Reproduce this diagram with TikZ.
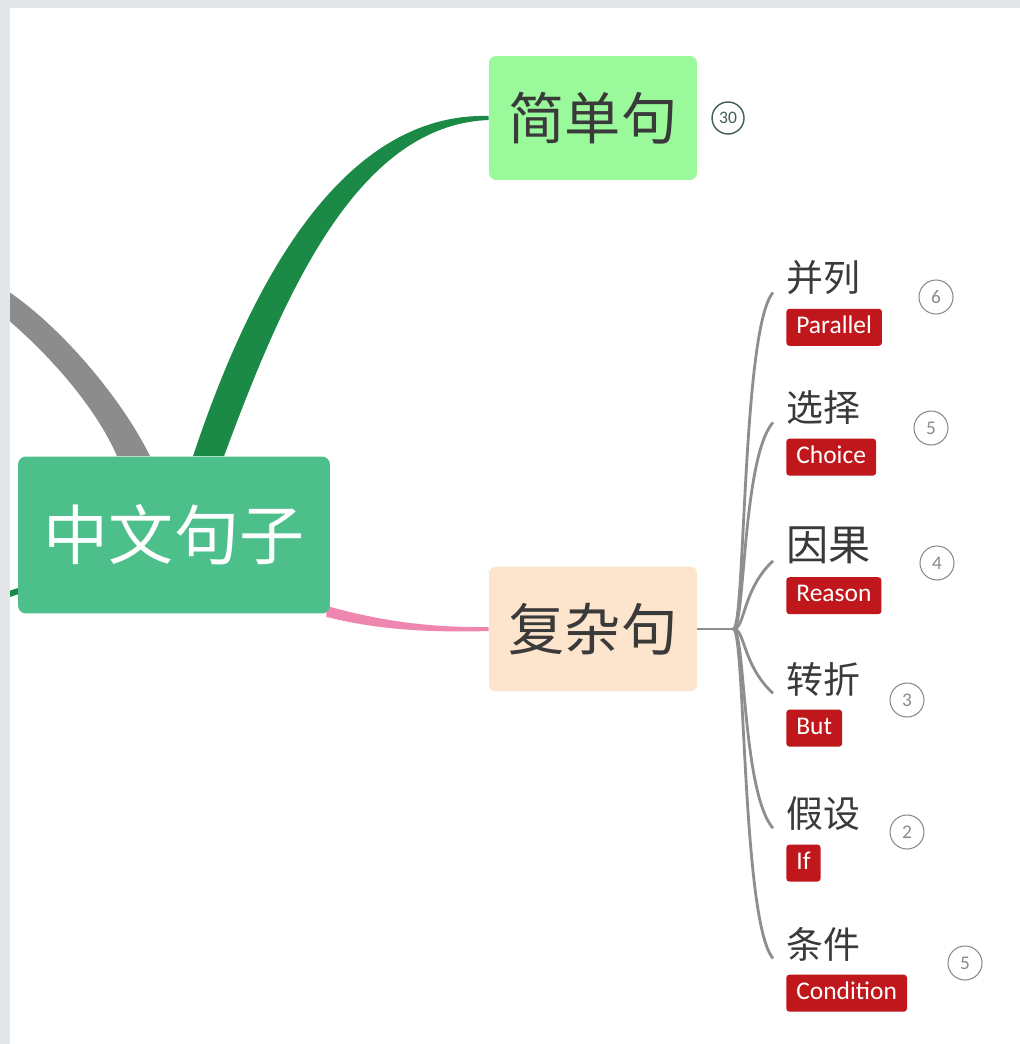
\documentclass[tikz,border=0pt]{standalone}
\usepackage{fontspec}
\setmainfont{Noto Sans CJK SC}
\newfontfamily\tagfont{Carlito}
\usetikzlibrary{positioning}
\usetikzlibrary{calc}
\usetikzlibrary{backgrounds}

\definecolor{rootgreen}{HTML}{4DBF8B}
\definecolor{branchgreen}{HTML}{1B8A47}
\definecolor{branchgray}{HTML}{8C8C8C}
\definecolor{branchpink}{HTML}{EE86AF}
\definecolor{simplefill}{HTML}{9AF99A}
\definecolor{complexfill}{HTML}{FDE4CC}
\definecolor{tagred}{HTML}{C0171C}
\definecolor{textgray}{HTML}{3A3A3A}
\definecolor{countgray}{HTML}{8A8A8A}
\definecolor{countgreen}{HTML}{3F5F50}
\definecolor{framegray}{HTML}{E3E7EA}
\definecolor{linegray}{HTML}{8E8E8E}

\begin{document}
\begin{tikzpicture}[x=0.02cm, y=-0.02cm,
  topic/.style={rounded corners=0.14cm, text=textgray, font=\fontsize{32}{32}\selectfont, minimum width=4.16cm, minimum height=2.48cm, inner sep=0},
  sub/.style={anchor=west, inner sep=0, text=textgray, font=\fontsize{21}{21}\selectfont},
  tag/.style={fill=tagred, text=white, rounded corners=0.06cm, font=\tagfont\fontsize{14.5}{14.5}\selectfont, inner xsep=0.2cm, inner ysep=4pt, text height=10pt, text depth=3pt},
  count/.style={circle, draw=countgray, line width=0.6pt, minimum size=0.68cm, inner sep=0, text=countgray, font=\tagfont\fontsize{11}{11}\selectfont},
  bracket/.style={draw=linegray, line width=1.6pt}]

\useasboundingbox (0,0) rectangle (1020,1044);

\node[fill=rootgreen, rounded corners=0.16cm, text=white, font=\fontsize{37}{37}\selectfont, minimum width=6.24cm, minimum height=3.14cm, inner sep=0] (root) at (174,535) {中文句子};
\node[topic, fill=simplefill] (simple) at (593,118) {简单句};
\node[topic, fill=complexfill, minimum height=2.5cm] (complex) at (593,629) {复杂句};
\node[count, draw=countgreen, text=countgreen, minimum size=0.64cm, line width=0.8pt, font=\tagfont\fontsize{10}{10}\selectfont, right=0.28cm of simple] (n0) {30};

\coordinate (offleft) at (0,300);
\coordinate (offleft2) at (0,597);
\coordinate (hub) at ($(complex.east)+(36,0)$);

\node[sub] (c1) at (786,278) {并列};
\node[sub] (c2) at (786,408) {选择};
\node[sub, font=\fontsize{24}{24}\selectfont] (c3) at (786,545) {因果};
\node[sub] (c4) at (786,679) {转折};
\node[sub] (c5) at (786,814) {假设};
\node[sub] (c6) at (786,944) {条件};

\node[tag, below=0.26cm of c1.south west, anchor=north west] (t1) {Parallel};
\node[tag, below=0.26cm of c2.south west, anchor=north west] (t2) {Choice};
\node[tag, below=0.26cm of c3.south west, anchor=north west] (t3) {Reason};
\node[tag, below=0.26cm of c4.south west, anchor=north west] (t4) {But};
\node[tag, below=0.26cm of c5.south west, anchor=north west] (t5) {If};
\node[tag, below=0.26cm of c6.south west, anchor=north west] (t6) {Condition};

\node[count] (n1) at (936,297) {6};
\node[count] (n2) at (931,428) {5};
\node[count] (n3) at (937,563) {4};
\node[count] (n4) at (907,700) {3};
\node[count] (n5) at (907,832) {2};
\node[count] (n6) at (965,963) {5};

\begin{scope}[on background layer]
\fill[white] (0,0) rectangle (1020,1044);
\fill[branchgray] ($(offleft)+(0,-14)$) .. controls (55,320) and (120,395) .. ($(root.north)+(-24,0)$) -- ($(root.north)+(-57,0)$) .. controls (95,405) and (45,350) .. ($(offleft)+(0,13)$) -- cycle;
\fill[branchgreen] ($(root.north)+(19,0)$) .. controls (245,300) and (335,112) .. ($(simple.west)+(0,-2)$) -- ($(simple.west)+(0,2)$) .. controls (355,125) and (282,300) .. ($(root.north)+(50,0)$) -- cycle;
\draw[branchgreen, line width=0.12cm] (offleft2) -- ($(root.west)+(4,55)$);
\fill[branchpink] ($(root.south east)+(-4,-8)$) .. controls (370,618) and (420,628) .. ($(complex.west)+(0,-2)$) -- ($(complex.west)+(0,2)$) .. controls (420,633) and (370,628) .. ($(root.south east)+(-4,3)$) -- cycle;
\draw[bracket] (complex.east) -- (hub);
\foreach \c/\d in {c1/1, c2/1, c3/0.8, c4/-0.8, c5/-1, c6/-1}
  \draw[bracket] (hub) .. controls ($(hub)+(12,0)$) and ($(\c.south west)+(-44,36*\d-3)$) .. ($(\c.south west)+(-13,-3)$);
\fill[framegray] (0,0) rectangle (1020,8);
\fill[framegray] (0,0) rectangle (10,1044);
\end{scope}
\end{tikzpicture}
\end{document}
